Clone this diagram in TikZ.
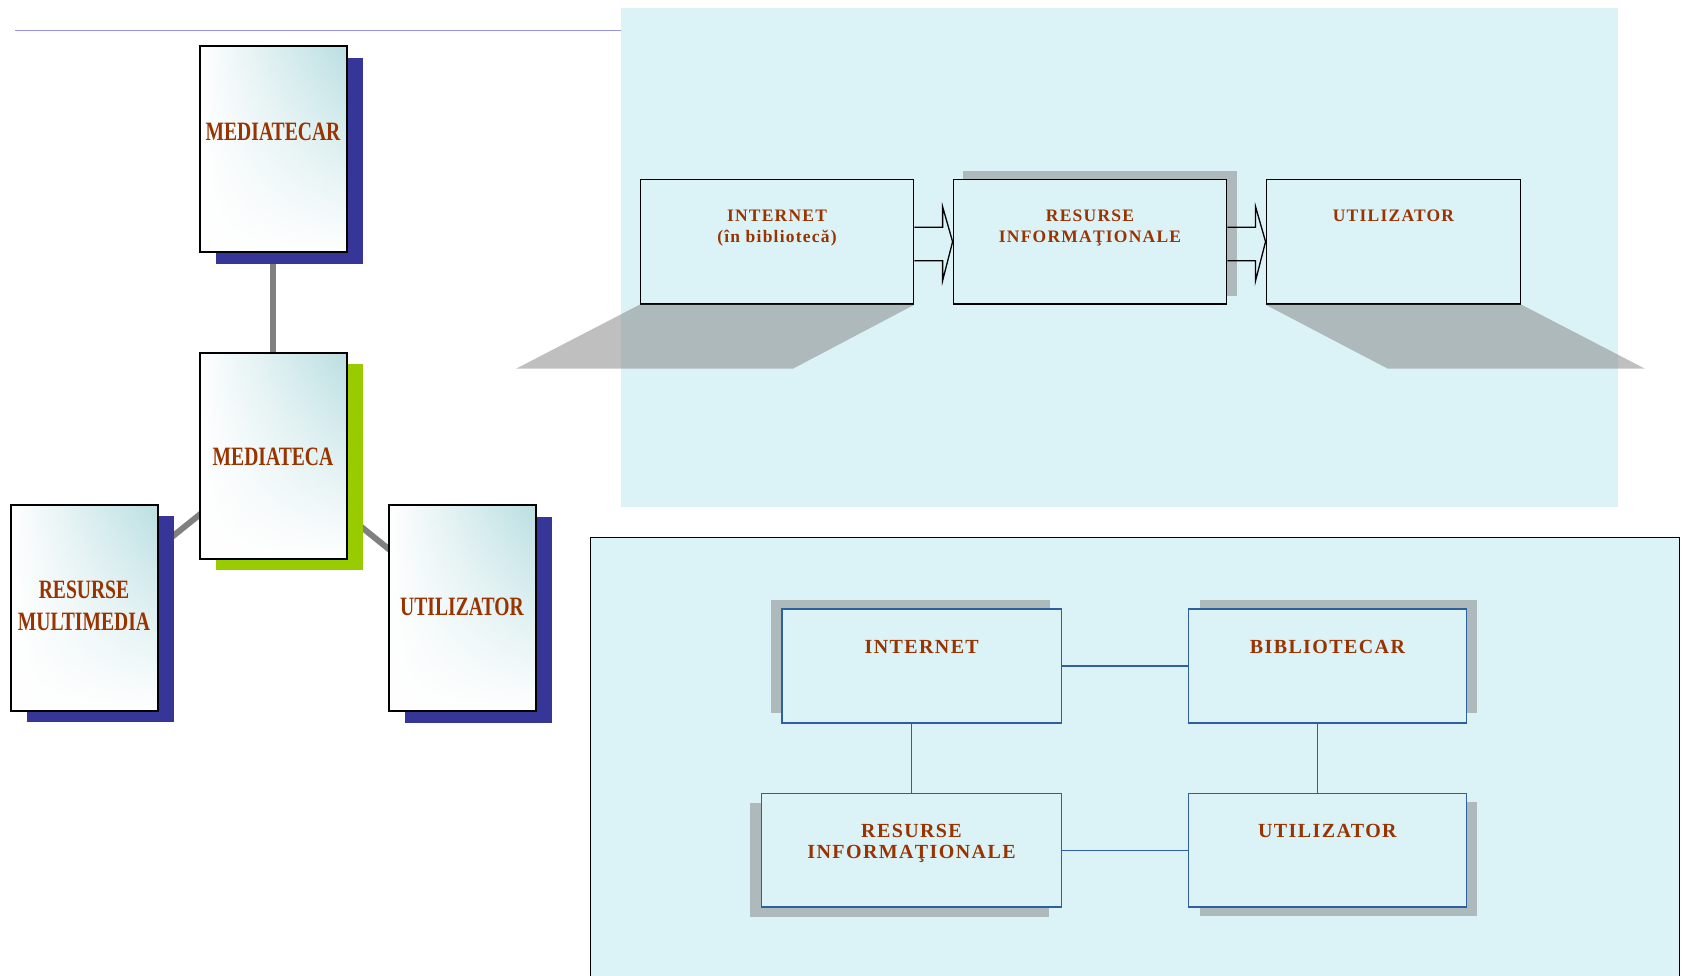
\documentclass[tikz,border=0pt]{standalone}
\usepackage{fontspec}
\usepackage{graphicx}
\setmainfont{Liberation Serif}
\newfontfamily\topfont[LetterSpace=7]{Liberation Serif}
\newfontfamily\botfont[LetterSpace=7]{Liberation Serif}
\usetikzlibrary{calc,fadings,shadows,backgrounds}
\definecolor{panel}{RGB}{219,243,247}
\definecolor{txt}{RGB}{153,51,0}
\definecolor{darkblue}{RGB}{54,54,153}
\definecolor{limeg}{RGB}{153,204,0}
\definecolor{tealc}{RGB}{186,223,226}
\definecolor{boxblue}{RGB}{46,95,158}
\definecolor{topline}{RGB}{150,150,228}
\definecolor{conngray}{RGB}{128,128,128}
\definecolor{shgray}{RGB}{173,185,186}
\newcommand\condtxt[1]{\scalebox{0.74}[1]{#1}}
\begin{document}
\begin{tikzpicture}[x=1bp,y=-1bp,
  lbox/.style={rectangle, draw=black, line width=2bp, minimum width=147bp,
    minimum height=206bp, inner sep=0pt,
    general shadow={fill=#1, shadow xshift=16.5bp, shadow yshift=-11.5bp},
    path picture={
      \shade[left color=white, right color=tealc]
        (path picture bounding box.south west) rectangle (path picture bounding box.north east);
      \fill[white, path fading=north]
        (path picture bounding box.south west) rectangle (path picture bounding box.north east);
    }},
  lconn/.style={draw=conngray, line width=6bp},
  ltxt/.style={font=\fontsize{26.5bp}{30bp}\selectfont\bfseries, text=txt, inner sep=0pt, anchor=base},
  tbox/.style={rectangle, draw=black, line width=1.3bp, fill=panel, minimum height=124.7bp, inner sep=0pt},
  ttxt/.style={font=\topfont\fontsize{17.5bp}{20bp}\selectfont\bfseries, text=txt, inner sep=0pt, anchor=base},
  arrowst/.style={draw=black, line width=1.3bp, line join=miter},
  pshadow/.style={fill=conngray, fill opacity=0.5},
  bbox/.style 2 args={rectangle, draw=boxblue, line width=1.5bp, fill=panel, minimum height=113.7bp,
    inner sep=0pt, general shadow={fill=shgray, shadow xshift=#1, shadow yshift=#2}},
  btxt/.style={font=\botfont\fontsize{20bp}{22bp}\selectfont\bfseries, text=txt, inner sep=0pt, anchor=base},
  bconn/.style={draw=boxblue, line width=1.2bp}
]
\useasboundingbox (0,0) rectangle (1688,975);

% top rule and top panel
\draw[topline, line width=1.2bp] (15,30.3) -- (620.5,30.3);
\fill[panel] (620.5,8) rectangle (1618,507);

% ---------- left diagram ----------
\node[lbox=darkblue] (mcar) at (273,149) {};
\node[lbox=limeg] (mca) at (273,455.5) {};
\node[lbox=darkblue] (rm) at (84.4,607.5) {};
\node[lbox=darkblue] (ut) at (462,608.3) {};

\node[ltxt] (tmcar) at (273,140.3) {\condtxt{MEDIATECAR}};
\node[ltxt] (tmca) at (273,465.3) {\condtxt{MEDIATECA}};
\node[ltxt] (trm1) at (84,598.3) {\condtxt{RESURSE}};
\node[ltxt] (trm2) at (84,630.8) {\condtxt{MULTIMEDIA}};
\node[ltxt] (tut) at (462,615.5) {\condtxt{UTILIZATOR}};

\begin{scope}[on background layer]
  \draw[lconn] (mcar) -- (mca);
  \draw[lconn] (mca.center) -- (rm.center);
  \draw[lconn] (mca.center) -- (ut.center);
\end{scope}

% ---------- top panel diagram ----------
\node[tbox, minimum width=273.5bp] (tint) at (777,241.7) {};
\node[tbox, minimum width=273.5bp, general shadow={fill=shgray, shadow xshift=10bp, shadow yshift=8.5bp}] (tres) at (1090,241.7) {};
\node[tbox, minimum width=254.6bp] (tuti) at (1393.5,241.7) {};

\fill[pshadow] (tint.south west) -- (tint.south east) -- ($(tint.south east)+(-121.5,64)$) -- ($(tint.south west)+(-123.5,64)$) -- cycle;
\fill[pshadow] (tuti.south west) -- (tuti.south east) -- ($(tuti.south east)+(123.5,64)$) -- ($(tuti.south west)+(122.3,64)$) -- cycle;

\draw[arrowst] ($(tint.east)+(0,-14.4)$) -- ($(tres.west)+(-10,-14.4)$) -- ($(tres.west)+(-10,-35)$)
  -- (tres.west) -- ($(tres.west)+(-10,39)$) -- ($(tres.west)+(-10,19)$) -- ($(tint.east)+(0,19)$);
\draw[arrowst] ($(tres.east)+(0,-14.4)$) -- ($(tuti.west)+(-10,-14.4)$) -- ($(tuti.west)+(-10,-35)$)
  -- (tuti.west) -- ($(tuti.west)+(-10,39)$) -- ($(tuti.west)+(-10,19)$) -- ($(tres.east)+(0,19)$);

\node[ttxt] (ti1) at (777,221.1) {INTERNET};
\node[ttxt] (ti2) at (777,242.6) {(în bibliotecă)};
\node[ttxt] (tr1) at (1090,221.1) {RESURSE};
\node[ttxt] (tr2) at (1090,242.6) {INFORMAŢIONALE};
\node[ttxt] (tu1) at (1393.5,221.1) {UTILIZATOR};

% ---------- bottom panel diagram ----------
\draw[fill=panel, draw=black, line width=1.5bp] (590.6,537.3) rectangle (1679.6,1000);

\node[bbox={-11.5bp}{9.5bp}, minimum width=279.2bp] (bint) at (921.7,665.9) {};
\node[bbox={11bp}{9.5bp}, minimum width=277.7bp] (bbib) at (1327.4,665.9) {};
\node[bbox={-12bp}{-9.5bp}, minimum width=299.7bp] (bres) at (911.5,850.2) {};
\node[bbox={11bp}{-9bp}, minimum width=277.7bp] (buti) at (1327.4,850.2) {};

\draw[bconn] (bint) -- (bbib);
\draw[bconn] (bres) -- (buti);
\draw[bconn] (bres.north) -- (bres.north |- bint.south);
\draw[bconn] ($(buti.north)+(-10,0)$) -- ($(bbib.south)+(-10,0)$);

\node[btxt] (bi1) at (921.7,653.3) {INTERNET};
\node[btxt] (bb1) at (1327.4,653.3) {BIBLIOTECAR};
\node[btxt] (br1) at (911.5,837.8) {RESURSE};
\node[btxt] (br2) at (911.5,858.9) {INFORMAŢIONALE};
\node[btxt] (bu1) at (1327.4,837.8) {UTILIZATOR};
\end{tikzpicture}
\end{document}
